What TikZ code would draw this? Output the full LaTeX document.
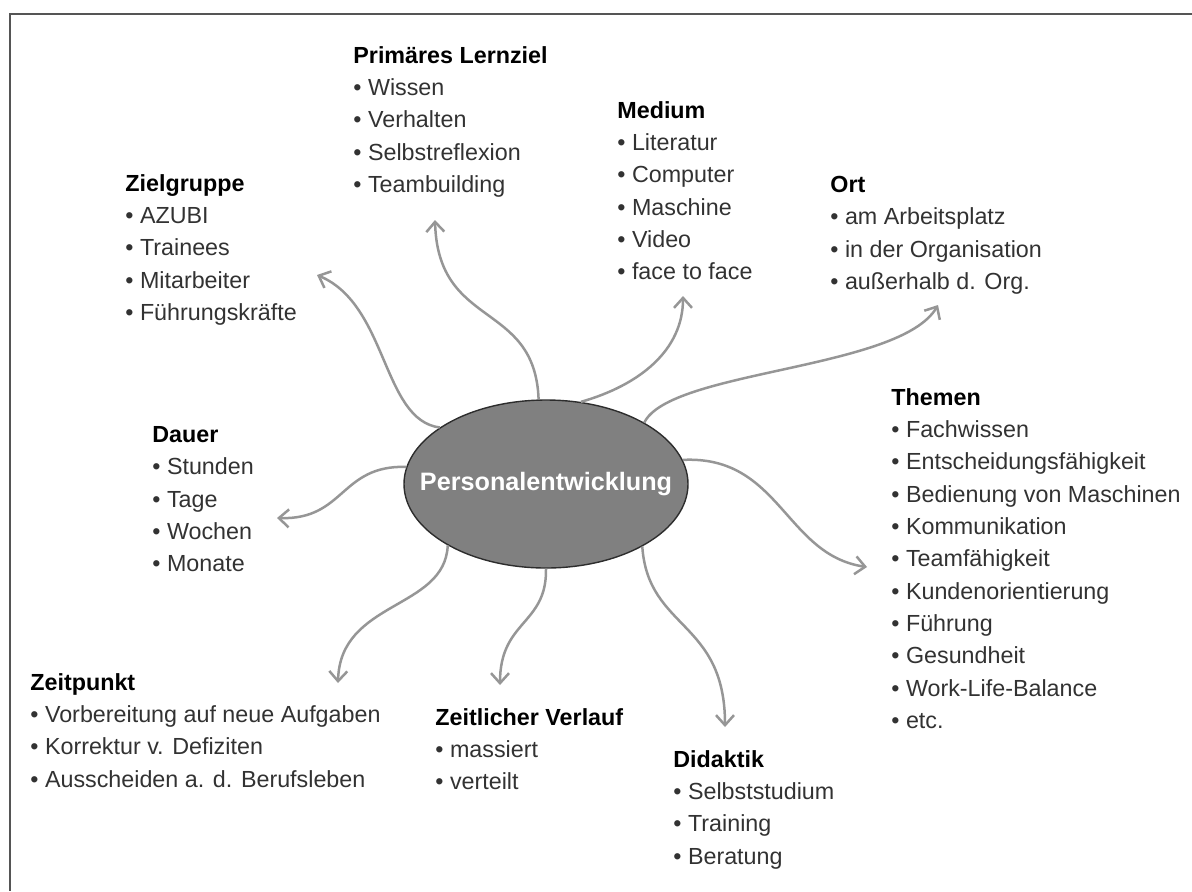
\documentclass[tikz,border=0pt]{standalone}
\usepackage{fontspec}
\setmainfont{Liberation Sans}
\definecolor{framegray}{RGB}{85,85,85}
\definecolor{armgray}{RGB}{150,150,150}
\definecolor{blobgray}{RGB}{128,128,128}
\definecolor{rimgray}{RGB}{45,45,45}
\definecolor{inkgray}{RGB}{50,50,50}
\usetikzlibrary{arrows.meta, shapes.geometric, positioning}
\newcommand{\blockhead}[1]{\textcolor{black}{\textbf{#1}}}

\begin{document}
\begin{tikzpicture}[x=0.5pt, y=-0.5pt,
    block/.style={anchor=north west, align=left, inner sep=0pt, text=inkgray,
      font=\fontsize{11.65pt}{16.15pt}\selectfont},
    arm/.style={armgray, line width=1.25pt, -{Straight Barb[length=5pt,width=9pt]}}]
  \useasboundingbox (0,0) rectangle (1192,891);
  \draw[framegray, line width=1pt] (1192,14) -- (10,14) -- (10,891);

  % centre
  \node[ellipse, draw=rimgray, line width=0.7pt, fill=blobgray, minimum width=142pt,
    minimum height=84pt, inner sep=0pt] (pe) at (546,484) {};
  \node[text=white, font=\bfseries\fontsize{12.6pt}{14pt}\selectfont] (pelabel) at (pe.center) {Personalentwicklung};

  % branches
  \node[block] (zielgruppe) at (125,174) {\blockhead{Zielgruppe}\\• AZUBI\\• Trainees\\• Mitarbeiter\\• Führungskräfte};
  \node[block] (lernziel) at (353,46) {\blockhead{Primäres Lernziel}\\• Wissen\\• Verhalten\\• Selbstreflexion\\• Teambuilding};
  \node[block] (medium) at (617,101) {\blockhead{Medium}\\• Literatur\\• Computer\\• Maschine\\• Video\\• face to face};
  \node[block] (ort) at (830,176) {\blockhead{Ort}\\• am Arbeitsplatz\\• in der Organisation\\• außerhalb d. Org.};
  \node[block] (themen) at (891,388) {\blockhead{Themen}\\• Fachwissen\\• Entscheidungsfähigkeit\\• Bedienung von Maschinen\\• Kommunikation\\• Teamfähigkeit\\• Kundenorientierung\\• Führung\\• Gesundheit\\• Work-Life-Balance\\• etc.};
  \node[block] (dauer) at (152,426) {\blockhead{Dauer}\\• Stunden\\• Tage\\• Wochen\\• Monate};
  \node[block] (zeitpunkt) at (30,673) {\blockhead{Zeitpunkt}\\• Vorbereitung auf neue Aufgaben\\• Korrektur v. Defiziten\\• Ausscheiden a. d. Berufsleben};
  \node[block] (verlauf) at (435,708) {\blockhead{Zeitlicher Verlauf}\\• massiert\\• verteilt};
  \node[block] (didaktik) at (673,750) {\blockhead{Didaktik}\\• Selbststudium\\• Training\\• Beratung};

  \coordinate (zielgruppe-in) at (317,275);
  \coordinate (lernziel-in) at (435,220);
  \coordinate (medium-in) at (683,296);
  \coordinate (ort-in) at (938,305);
  \coordinate (themen-in) at (867,567);
  \coordinate (dauer-in) at (277,518);
  \coordinate (zeitpunkt-in) at (338,683);
  \coordinate (verlauf-in) at (500,685);
  \coordinate (didaktik-in) at (725,727);

  \draw[arm] (pe.152) .. controls (382,420) and (388,305) .. (zielgruppe-in);
  \draw[arm] (pe.95) .. controls (535,300) and (438,330) .. (lernziel-in);
  \draw[arm] (pe.67) .. controls (640,385) and (683,350) .. (medium-in);
  \draw[arm] (pe.32) .. controls (670,370) and (900,370) .. (ort-in);
  \draw[arm] (pe.10) .. controls (780,455) and (785,555) .. (themen-in);
  \draw[arm] (pe.173) .. controls (340,465) and (345,520) .. (dauer-in);
  \draw[arm] (pe.212) .. controls (445,610) and (340,600) .. (zeitpunkt-in);
  \draw[arm] (pe.270) .. controls (547,625) and (500,620) .. (verlauf-in);
  \draw[arm] (pe.327) .. controls (648,630) and (725,620) .. (didaktik-in);
\end{tikzpicture}
\end{document}
